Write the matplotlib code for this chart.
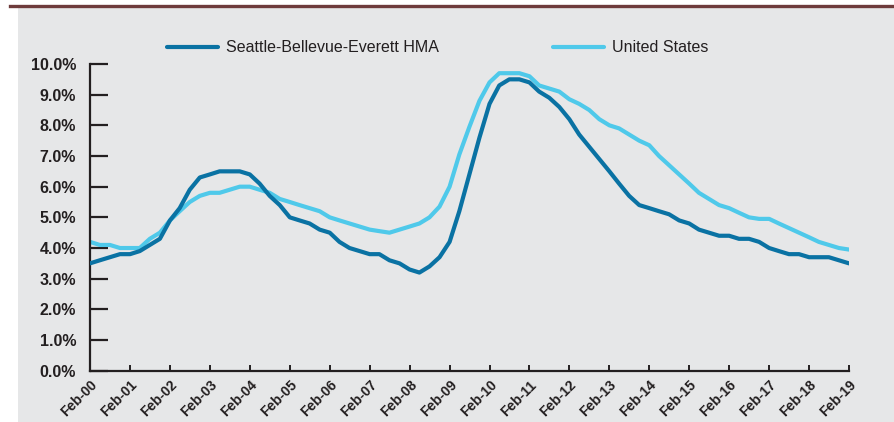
import matplotlib
matplotlib.use("Agg")
import matplotlib.pyplot as plt
import matplotlib.transforms as mtransforms
from matplotlib.lines import Line2D
from matplotlib.patches import Rectangle
import pandas as pd

# quarterly points, Feb-2000 .. Feb-2019 (unemployment rate, %)
dates = pd.date_range("2000-02-01", "2019-02-01", freq="3MS")

seattle = [3.5, 3.6, 3.7, 3.8, 3.8, 3.9, 4.1, 4.3,
           4.9, 5.3, 5.9, 6.3, 6.4, 6.5, 6.5, 6.5,
           6.4, 6.1, 5.7, 5.4, 5.0, 4.9, 4.8, 4.6,
           4.5, 4.2, 4.0, 3.9, 3.8, 3.8, 3.6, 3.5,
           3.3, 3.2, 3.4, 3.7, 4.2, 5.2, 6.4, 7.6,
           8.7, 9.3, 9.5, 9.5, 9.4, 9.1, 8.9, 8.6,
           8.2, 7.7, 7.3, 6.9, 6.5, 6.1, 5.7, 5.4,
           5.3, 5.2, 5.1, 4.9, 4.8, 4.6, 4.5, 4.4,
           4.4, 4.3, 4.3, 4.2, 4.0, 3.9, 3.8, 3.8,
           3.7, 3.7, 3.7, 3.6, 3.5]

united_states = [4.2, 4.1, 4.1, 4.0, 4.0, 4.0, 4.3, 4.5,
                 4.9, 5.2, 5.5, 5.7, 5.8, 5.8, 5.9, 6.0,
                 6.0, 5.9, 5.8, 5.6, 5.5, 5.4, 5.3, 5.2,
                 5.0, 4.9, 4.8, 4.7, 4.6, 4.55, 4.5, 4.6,
                 4.7, 4.8, 5.0, 5.35, 6.0, 7.05, 7.95, 8.8,
                 9.4, 9.7, 9.7, 9.7, 9.6, 9.3, 9.2, 9.1,
                 8.85, 8.7, 8.5, 8.2, 8.0, 7.9, 7.7, 7.5,
                 7.35, 7.0, 6.7, 6.4, 6.1, 5.8, 5.6, 5.4,
                 5.3, 5.15, 5.0, 4.95, 4.95, 4.8, 4.65, 4.5,
                 4.35, 4.2, 4.1, 4.0, 3.95]

series_names = ["Seattle-Bellevue-Everett HMA", "United States"]
series_colors = ["#0a72a3", "#4fc9ea"]
tick_years = list(range(2000, 2020))
tick_labels = ["Feb-%02d" % (y % 100) for y in tick_years]
y_ticks = [0, 1, 2, 3, 4, 5, 6, 7, 8, 9, 10]

plt.rcParams["font.family"] = ["Liberation Sans", "DejaVu Sans"]
ink = "#231f20"

fig = plt.figure(figsize=(8.95, 4.22), dpi=100, facecolor="white")

# grey panel and the maroon rule along the top
fig.add_artist(Rectangle((18 / 895, 0), 1, (422 - 8) / 422,
                         transform=fig.transFigure, facecolor="#e6e7e8",
                         edgecolor="none", zorder=0))
fig.add_artist(Line2D([10 / 895, 1], [1 - 6 / 422, 1 - 6 / 422],
                      transform=fig.transFigure, color="#6e3b3b", lw=2.4))

ax = fig.add_axes([90 / 895, 1 - 370.7 / 422, (849 - 90) / 895, (370.7 - 64) / 422])
ax.set_facecolor("none")

l1, = ax.plot(dates, seattle, color=series_colors[0], lw=3.0, solid_capstyle="round",
              label=series_names[0], zorder=3)
l2, = ax.plot(dates, united_states, color=series_colors[1], lw=3.0, solid_capstyle="round",
              label=series_names[1], zorder=2)

ax.set_xlim(pd.Timestamp("2000-02-01"), pd.Timestamp("2019-02-01"))
ax.set_ylim(0, 10)

ax.set_yticks(y_ticks)
ax.set_yticklabels(["%.1f%%" % v for v in y_ticks], fontsize=11.5, fontweight="bold",
                   color=ink)
ax.set_xticks([pd.Timestamp("%d-02-01" % y) for y in tick_years])
ax.set_xticklabels(tick_labels, rotation=45, ha="right", va="top",
                   rotation_mode="anchor", fontsize=10, fontweight="bold", color=ink)
shift = mtransforms.ScaledTranslation(4 / 100, 0, fig.dpi_scale_trans)
for lab in ax.get_xticklabels():
    lab.set_transform(lab.get_transform() + shift)

ax.tick_params(axis="y", direction="in", length=13, width=1.6, pad=10, color=ink)
ax.tick_params(axis="x", direction="in", length=4, width=1.4, pad=5, color=ink)

for side in ["top", "right"]:
    ax.spines[side].set_visible(False)
for side in ["left", "bottom"]:
    ax.spines[side].set_linewidth(1.6)
    ax.spines[side].set_color(ink)

# one legend entry per column, placed separately
for handle, x0 in [(l1, 167), (l2, 553)]:
    leg = fig.legend(handles=[handle], loc="center left",
                     bbox_to_anchor=(x0 / 895, 1 - 48 / 422),
                     frameon=False, fontsize=11.5, handlelength=3.2,
                     handletextpad=0.5, borderaxespad=0, borderpad=0)
    for t in leg.get_texts():
        t.set_color(ink)

fig.savefig("out.png", dpi=100, facecolor=fig.get_facecolor())
